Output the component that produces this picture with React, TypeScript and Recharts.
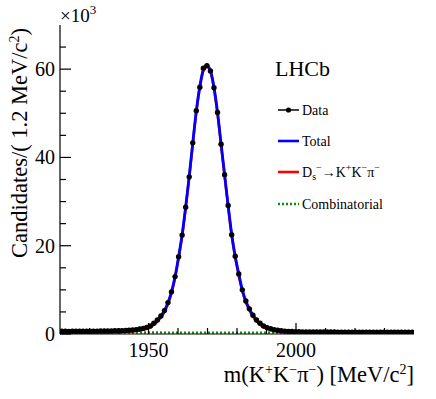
import { Line, LineChart, XAxis, YAxis } from 'recharts';

// binning of the histogram
const BIN_LOW = 1920;
const BIN_WIDTH = 1.2;

// candidates per bin, x10^3
const DATA = [
  0.61, 0.62, 0.6, 0.63, 0.62, 0.64, 0.63, 0.65, 0.64, 0.66, 0.66, 0.67, 0.68, 0.69, 0.7,
  0.72, 0.74, 0.77, 0.81, 0.86, 0.92, 1.0, 1.12, 1.28, 1.5,
  1.82, 2.43, 3.18, 4.09, 5.3, 7.11, 9.55, 13.0, 17.5, 22.4, 28.7, 35.6, 43.3, 50.6, 55.9, 60.2,
  60.8,
  59.6, 55.8, 50.2, 43.0, 36.1, 29.1, 22.5, 17.6, 13.6, 10.0, 7.5, 5.7, 4.25, 3.18, 2.43, 1.82,
  1.45, 1.18, 0.98, 0.84, 0.73, 0.66, 0.6, 0.56, 0.53, 0.51,
  0.49, 0.48, 0.47, 0.46, 0.46, 0.45, 0.45, 0.44, 0.44, 0.44,
  0.43, 0.43, 0.43, 0.42, 0.42, 0.42, 0.42, 0.41, 0.41, 0.41,
  0.41, 0.4, 0.4, 0.4, 0.4, 0.4, 0.39, 0.39, 0.39, 0.39,
  0.39, 0.38,
];

const TOTAL = [
  0.6, 0.6, 0.61, 0.61, 0.62, 0.62, 0.63, 0.63, 0.64, 0.65, 0.66, 0.67, 0.68, 0.69, 0.71,
  0.73, 0.75, 0.78, 0.82, 0.87, 0.93, 1.01, 1.12, 1.28, 1.5,
  1.8, 2.4, 3.15, 4.1, 5.3, 7.12, 9.6, 13.0, 17.5, 22.5, 28.8, 35.7, 43.3, 50.5, 56.1, 59.9,
  60.8,
  59.7, 55.9, 50.2, 43.1, 36.1, 29.1, 22.6, 17.6, 13.6, 10.0, 7.5, 5.7, 4.28, 3.2, 2.44, 1.84,
  1.45, 1.17, 0.97, 0.83, 0.73, 0.66, 0.61, 0.57, 0.54, 0.52,
  0.5, 0.49, 0.48, 0.47, 0.46, 0.46, 0.45, 0.45, 0.44, 0.44,
  0.44, 0.43, 0.43, 0.43, 0.42, 0.42, 0.42, 0.42, 0.41, 0.41,
  0.41, 0.41, 0.4, 0.4, 0.4, 0.4, 0.4, 0.39, 0.39, 0.39,
  0.39, 0.38,
];

const SIGNAL = [
  0.26, 0.26, 0.27, 0.27, 0.28, 0.28, 0.29, 0.29, 0.3, 0.31, 0.32, 0.33, 0.34, 0.35, 0.37,
  0.4, 0.42, 0.45, 0.49, 0.54, 0.6, 0.68, 0.79, 0.95, 1.17,
  1.47, 2.07, 2.82, 3.77, 4.97, 6.79, 9.28, 12.7, 17.2, 22.2, 28.5, 35.4, 43.0, 50.2, 55.8, 59.6,
  60.5,
  59.4, 55.6, 49.9, 42.8, 35.8, 28.8, 22.3, 17.3, 13.3, 9.7, 7.2, 5.4, 3.98, 2.9, 2.14, 1.54,
  1.16, 0.88, 0.68, 0.54, 0.44, 0.37, 0.32, 0.28, 0.25, 0.23,
  0.21, 0.2, 0.19, 0.18, 0.17, 0.17, 0.16, 0.16, 0.15, 0.15,
  0.15, 0.14, 0.14, 0.14, 0.13, 0.13, 0.13, 0.13, 0.12, 0.12,
  0.12, 0.12, 0.11, 0.11, 0.11, 0.11, 0.11, 0.1, 0.1, 0.1,
  0.1, 0.09,
];

const COMB_MASS = [1920, 1980, 2040];
const COMB = [0.34, 0.31, 0.28];

const X_TICKS = [1930, 1940, 1950, 1960, 1970, 1980, 1990, 2000, 2010, 2020, 2030];
const X_LABELS = [1950, 2000];
const Y_TICKS = [0, 5, 10, 15, 20, 25, 30, 35, 40, 45, 50, 55, 60, 65];
const Y_LABELS = [0, 20, 40, 60];

const rows = DATA.map((d, i) => ({
  mass: BIN_LOW + (i + 0.5) * BIN_WIDTH,
  data: d,
  total: TOTAL[i],
  signal: SIGNAL[i],
}));
const combRows = COMB_MASS.map((m, i) => ({ mass: m, comb: COMB[i] }));

const BLUE = '#0000ff';
const RED = '#ff0000';
const GREEN = '#0b8a0b';
const SERIF = 'Liberation Serif';

function BottomTick({ x, y, payload }: any) {
  const major = X_LABELS.includes(payload.value);
  return (
    <g>
      <line x1={x} x2={x} y1={y} y2={y - (major ? 11 : 6)} stroke="#000" strokeWidth={1.2} />
      {major && (
        <text x={x} y={y + 23} textAnchor="middle" fontSize={20} fontFamily={SERIF} fill="#000">
          {payload.value}
        </text>
      )}
    </g>
  );
}

function TopTick({ x, y, payload }: any) {
  const major = X_LABELS.includes(payload.value);
  return <line x1={x} x2={x} y1={y} y2={y + (major ? 11 : 6)} stroke="#000" strokeWidth={1.2} />;
}

function LeftTick({ x, y, payload }: any) {
  const major = Y_LABELS.includes(payload.value);
  return (
    <g>
      <line x1={x} x2={x + (major ? 11 : 6)} y1={y} y2={y} stroke="#000" strokeWidth={1.2} />
      {major && (
        <text x={x - 5} y={y + 7} textAnchor="end" fontSize={20} fontFamily={SERIF} fill="#000">
          {payload.value}
        </text>
      )}
    </g>
  );
}

function RightTick({ x, y, payload }: any) {
  const major = Y_LABELS.includes(payload.value);
  return <line x1={x} x2={x - (major ? 11 : 6)} y1={y} y2={y} stroke="#000" strokeWidth={1.2} />;
}

function Overlay() {
  const small = { fontSize: 10 };
  return (
    <svg
      width={436}
      height={399}
      fontFamily={SERIF}
      style={{ position: 'absolute', left: 0, top: 0, pointerEvents: 'none' }}
    >
      <text x={60} y={22} fontSize={19}>
        ×10<tspan dy={-8} fontSize={13}>3</tspan>
      </text>
      <text transform="translate(27,28) rotate(-90)" textAnchor="end" fontSize={22.5}>
        Candidates/( 1.2 MeV/c<tspan dy={-8} fontSize={14}>2</tspan>
        <tspan dy={8}>)</tspan>
      </text>
      <text x={414} y={382} textAnchor="end" fontSize={22.5}>
        m(K<tspan dy={-8} fontSize={14}>+</tspan>
        <tspan dy={8}>K</tspan>
        <tspan dy={-8} fontSize={14}>−</tspan>
        <tspan dy={8}>π</tspan>
        <tspan dy={-8} fontSize={14}>−</tspan>
        <tspan dy={8}>) [MeV/c</tspan>
        <tspan dy={-8} fontSize={14}>2</tspan>
        <tspan dy={8}>]</tspan>
      </text>

      <text x={275} y={76} fontSize={22}>LHCb</text>

      <line x1={278} x2={299} y1={110} y2={110} stroke="#000" strokeWidth={1.5} />
      <circle cx={288.5} cy={110} r={2.6} fill="#000" />
      <text x={302} y={115} fontSize={14}>Data</text>

      <line x1={278} x2={299} y1={141} y2={141} stroke={BLUE} strokeWidth={2.6} />
      <text x={302} y={146} fontSize={14}>Total</text>

      <line x1={278} x2={299} y1={172} y2={172} stroke={RED} strokeWidth={2.6} />
      <text x={302} y={177} fontSize={14}>
        D<tspan dy={3} style={small}>s</tspan>
        <tspan dy={-9} style={small}>−</tspan>
        <tspan dy={6}>→K</tspan>
        <tspan dy={-6} style={small}>+</tspan>
        <tspan dy={6}>K</tspan>
        <tspan dy={-6} style={small}>−</tspan>
        <tspan dy={6}>π</tspan>
        <tspan dy={-6} style={small}>−</tspan>
      </text>

      <line
        x1={278}
        x2={299}
        y1={204}
        y2={204}
        stroke={GREEN}
        strokeWidth={2.4}
        strokeDasharray="2 2"
      />
      <text x={302} y={209} fontSize={14}>Combinatorial</text>
    </svg>
  );
}

export default function App() {
  return (
    <div
      style={{
        position: 'absolute',
        left: 0,
        top: 0,
        width: 436,
        height: 399,
        background: '#fff',
        fontFamily: '"Liberation Serif", serif',
      }}
    >
      <LineChart
        width={436}
        height={399}
        data={rows}
        margin={{ top: 25, right: 22, left: 0, bottom: 35 }}
      >
        <XAxis
          dataKey="mass"
          type="number"
          domain={[1920, 2040]}
          ticks={X_TICKS}
          interval={0}
          tickSize={0}
          tickMargin={0}
          tickLine={false}
          tick={<BottomTick />}
          axisLine={{ stroke: '#000', strokeWidth: 1.2 }}
          height={30}
          allowDataOverflow
        />
        <XAxis
          xAxisId="top"
          orientation="top"
          dataKey="mass"
          type="number"
          domain={[1920, 2040]}
          ticks={X_TICKS}
          interval={0}
          tickSize={0}
          tickMargin={0}
          tickLine={false}
          tick={<TopTick />}
          axisLine={{ stroke: '#000', strokeWidth: 1.2 }}
          height={0}
          allowDataOverflow
        />
        <YAxis
          type="number"
          domain={[0, 70]}
          ticks={Y_TICKS}
          interval={0}
          tickSize={0}
          tickMargin={0}
          tickLine={false}
          tick={<LeftTick />}
          axisLine={{ stroke: '#000', strokeWidth: 1.2 }}
          width={60}
          allowDataOverflow
        />
        <YAxis
          yAxisId="right"
          orientation="right"
          type="number"
          domain={[0, 70]}
          ticks={Y_TICKS}
          interval={0}
          tickSize={0}
          tickMargin={0}
          tickLine={false}
          tick={<RightTick />}
          axisLine={{ stroke: '#000', strokeWidth: 1.2 }}
          width={0}
          allowDataOverflow
        />
        <Line
          dataKey="signal"
          type="monotone"
          stroke={RED}
          strokeWidth={2.6}
          dot={false}
          activeDot={false}
          isAnimationActive={false}
        />
        <Line
          data={combRows}
          dataKey="comb"
          type="linear"
          stroke={GREEN}
          strokeWidth={2.4}
          strokeDasharray="2 2"
          dot={false}
          activeDot={false}
          isAnimationActive={false}
        />
        <Line
          dataKey="total"
          type="monotone"
          stroke={BLUE}
          strokeWidth={2.8}
          dot={false}
          activeDot={false}
          isAnimationActive={false}
        />
        <Line
          dataKey="data"
          stroke="none"
          dot={{ r: 2.7, fill: '#000', stroke: 'none' }}
          activeDot={false}
          isAnimationActive={false}
        />
      </LineChart>
      <Overlay />
    </div>
  );
}
